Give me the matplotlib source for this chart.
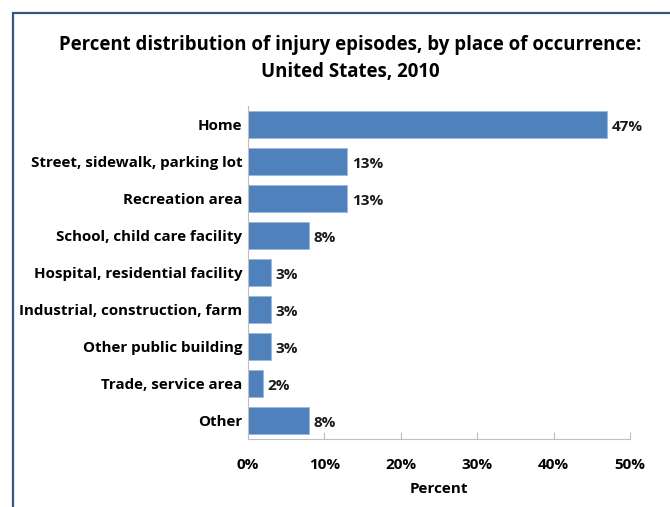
import matplotlib
matplotlib.use("Agg")
import matplotlib.pyplot as plt
from matplotlib.patches import Rectangle
from matplotlib.ticker import FuncFormatter

categories = ["Home", "Street, sidewalk, parking lot", "Recreation area",
              "School, child care facility", "Hospital, residential facility",
              "Industrial, construction, farm", "Other public building",
              "Trade, service area", "Other"]
values = [47, 13, 13, 8, 3, 3, 3, 2, 8]
xticks = [0, 10, 20, 30, 40, 50]

plt.rcParams['font.family'] = ['Open Sans', 'DejaVu Sans']

fig = plt.figure(figsize=(6.7, 5.07), dpi=100)
fig.patch.set_facecolor('white')

# outer frame (only left and top visible)
fig.add_artist(Rectangle((13/670, -0.1), 1.2, (507-13)/507 + 0.1,
                         transform=fig.transFigure, fill=False,
                         edgecolor='#3A5482', linewidth=1.6))

ax = fig.add_axes([248/670, (507-439)/507, (630-248)/670, (439-106)/507])
y = list(range(len(categories)))
ax.barh(y, values, height=0.73, color='#4F81BD', edgecolor='#9DB9DD', linewidth=0.6)
ax.set_ylim(len(categories) - 0.5, -0.5)
ax.set_xlim(0, 50)
ax.set_xticks(xticks)
ax.xaxis.set_major_formatter(FuncFormatter(lambda v, p: f"{int(v)}%"))
ax.set_yticks(y)
ax.set_yticklabels(categories, fontsize=10.9, fontweight='bold')
ax.tick_params(axis='y', length=0, pad=4)
ax.tick_params(axis='x', direction='in', length=5, color='#BFBFBF', pad=14,
               labelsize=11)
for lab in ax.get_xticklabels():
    lab.set_fontweight('bold')
for s in ['top', 'right']:
    ax.spines[s].set_visible(False)
ax.spines['left'].set_color('#BFBFBF')
ax.spines['bottom'].set_color('#BFBFBF')

for yi, v in zip(y, values):
    ax.text(v + 0.6, yi + 0.08, f"{v}%", va='center', ha='left',
            fontsize=11, fontweight='bold', color='#1a1a1a')

ax.set_xlabel("Percent", fontsize=11, fontweight='bold', labelpad=7)

fig.text(350/670, 1 - 45/507, "Percent distribution of injury episodes, by place of occurrence:",
         ha='center', va='center', fontsize=13.4, fontweight='bold')
fig.text(350/670, 1 - 72/507, "United States, 2010",
         ha='center', va='center', fontsize=13.4, fontweight='bold')

fig.savefig("out.png", dpi=100, facecolor='white')
